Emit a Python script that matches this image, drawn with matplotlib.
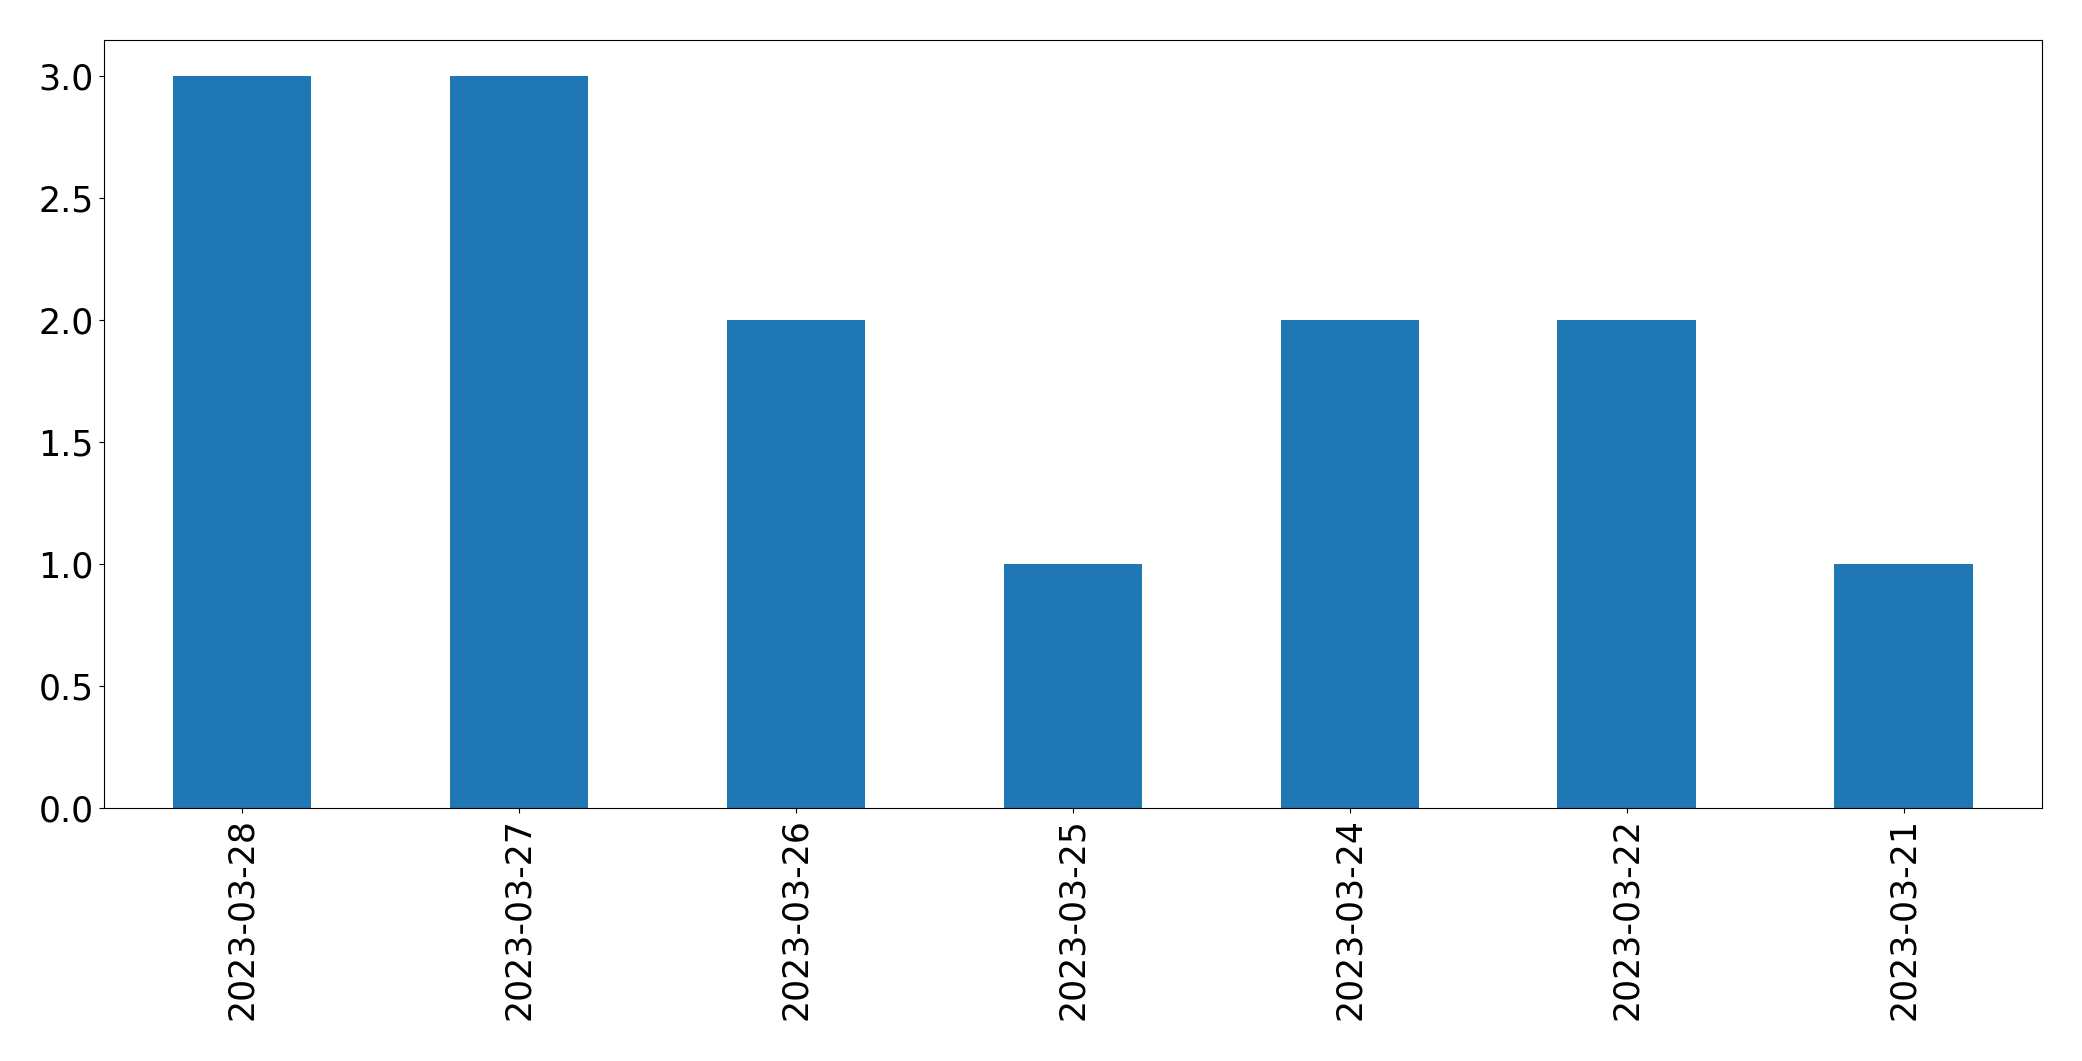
import pandas as pd
import matplotlib
matplotlib.use("Agg")
import matplotlib.pyplot as plt

# counts per day
dates = ["2023-03-28", "2023-03-27", "2023-03-26", "2023-03-25",
         "2023-03-24", "2023-03-22", "2023-03-21"]
counts = [3, 3, 2, 1, 2, 2, 1]

s = pd.Series(counts, index=dates)

fig, ax = plt.subplots(figsize=(20.82, 10.61), dpi=100)
s.plot(kind="bar", ax=ax, color="#1f77b4", fontsize=25)
ax.tick_params(axis="both", labelsize=25)
fig.subplots_adjust(left=0.0498, right=0.9808, top=0.9625, bottom=0.238)
fig.savefig("out.png", dpi=100)
